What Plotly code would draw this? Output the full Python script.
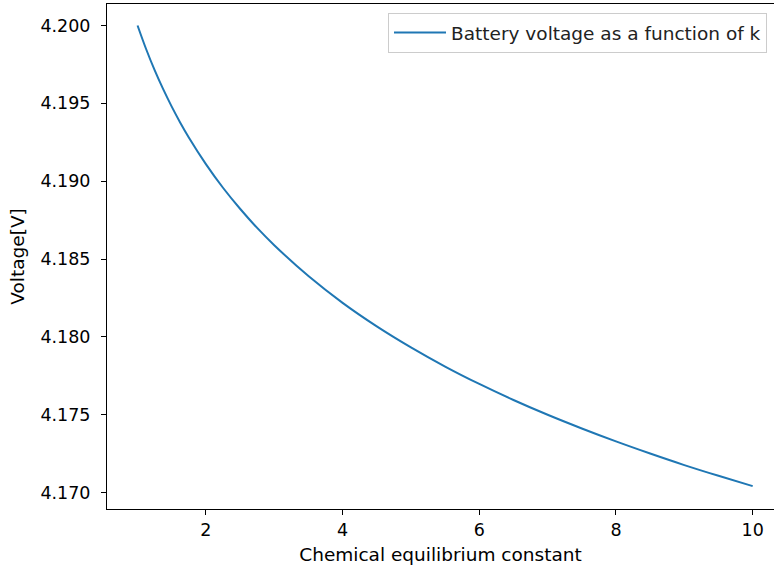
import plotly.graph_objects as go

# Chemical equilibrium constant k
k_values = [1.0, 1.125, 1.25, 1.375, 1.5, 1.625, 1.75, 2.0, 2.25, 2.5, 2.75,
            3.0, 3.5, 4.0, 4.5, 5.0, 5.5, 6.0, 6.5, 7.0, 7.5, 8.0, 8.5,
            9.0, 9.5, 10.0]
# Battery voltage [V]
voltage = [4.20000, 4.19849, 4.19713, 4.19591, 4.19479, 4.19376, 4.19281,
           4.19110, 4.18958, 4.18823, 4.18700, 4.18589, 4.18391, 4.18219,
           4.18068, 4.17933, 4.17810, 4.17698, 4.17595, 4.17500, 4.17412,
           4.17329, 4.17251, 4.17177, 4.17108, 4.17042]

x_ticks = [2, 4, 6, 8, 10]
y_ticks = [4.170, 4.175, 4.180, 4.185, 4.190, 4.195, 4.200]
y_tick_text = ["4.170", "4.175", "4.180", "4.185", "4.190", "4.195", "4.200"]

FONT = "DejaVu Sans"
FS = 18.5
TFS = 17.5

fig = go.Figure()
fig.add_trace(go.Scatter(
    x=k_values, y=voltage, mode="lines",
    line=dict(color="#1f77b4", width=2, shape="spline", smoothing=1.0),
    name="Battery voltage as a function of k",
))

fig.update_layout(
    width=774, height=572,
    margin=dict(l=107, r=0, t=4, b=63),
    paper_bgcolor="white", plot_bgcolor="white",
    font=dict(family=FONT, size=FS, color="black"),
    showlegend=True,
    legend=dict(
        x=0.4213, y=0.982, xanchor="left", yanchor="top",
        bgcolor="rgba(255,255,255,0.8)", bordercolor="#cccccc", borderwidth=1,
        font=dict(family=FONT, size=FS, color="#222222"),
        itemwidth=52,
    ),
    xaxis=dict(
        range=[0.553, 10.312], tickvals=x_ticks,
        showgrid=False, zeroline=False,
        showline=True, linecolor="black", linewidth=1, mirror=True,
        ticks="outside", ticklen=5, tickwidth=1, tickcolor="black",
        tickfont=dict(family=FONT, size=TFS),
        title=dict(text="Chemical equilibrium constant", standoff=9,
                   font=dict(family=FONT, size=FS)),
    ),
    yaxis=dict(
        range=[4.16895, 4.20138], tickvals=y_ticks, ticktext=y_tick_text,
        showgrid=False, zeroline=False,
        showline=True, linecolor="black", linewidth=1, mirror=False,
        ticks="outside", ticklen=5, tickwidth=1, tickcolor="black",
        tickfont=dict(family=FONT, size=TFS),
        ticklabelstandoff=7,
        title=dict(text="Voltage[V]", standoff=10,
                   font=dict(family=FONT, size=FS)),
    ),
)

fig.write_html("out.html")
